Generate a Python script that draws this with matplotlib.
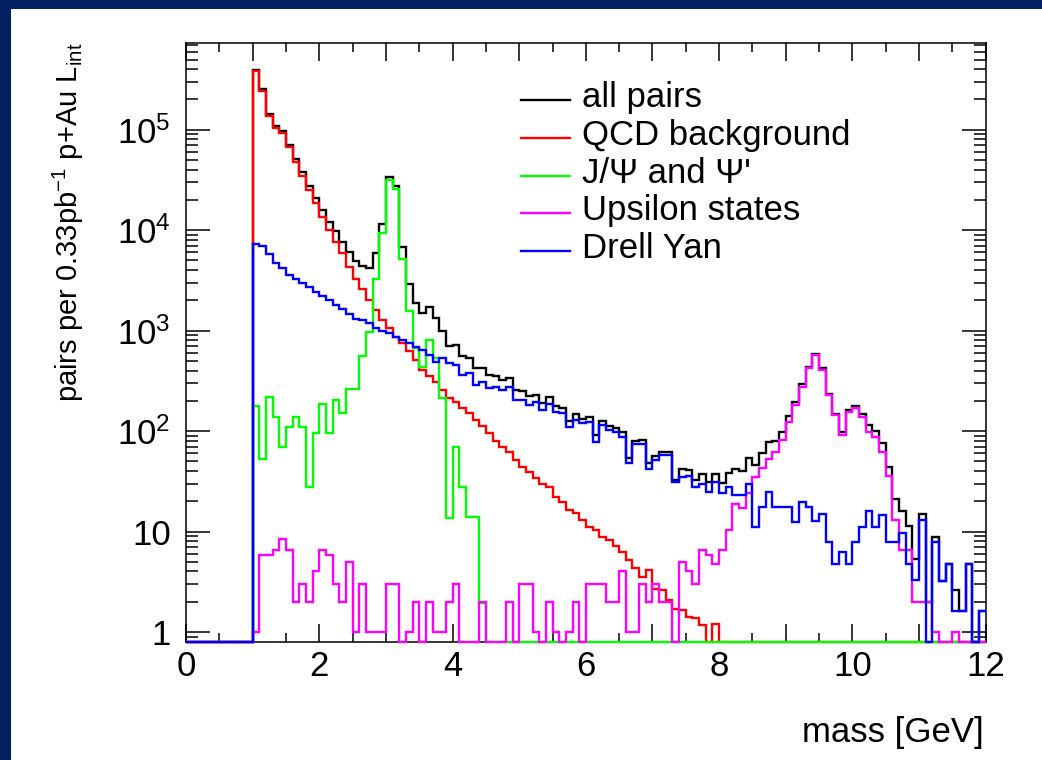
import numpy as np
import matplotlib
matplotlib.use("Agg")
import matplotlib.pyplot as plt
from matplotlib.lines import Line2D
from matplotlib.patches import Rectangle
from matplotlib.ticker import LogLocator, MultipleLocator, FuncFormatter, NullFormatter

plt.rcParams['font.family'] = ['Liberation Sans', 'DejaVu Sans']
plt.rcParams['mathtext.fontset'] = 'custom'
plt.rcParams['mathtext.rm'] = 'Liberation Sans'
plt.rcParams['mathtext.it'] = 'Liberation Sans:italic'
plt.rcParams['mathtext.bf'] = 'Liberation Sans:bold'

# histogram: 0.1 GeV bins from 0 to 12 GeV, nothing below 1 GeV
bin_width = 0.1
first_filled = 1.0

# bin contents from 1.0 GeV upward (one value per 0.1 GeV bin)
qcd = [3.85e5, 2.45e5, 1.36e5, 1.05e5, 9.3e4, 6.7e4, 4.8e4, 3.5e4, 2.5e4, 1.85e4,
       1.36e4, 1.0e4, 7.7e3, 5.9e3, 4.3e3, 3.3e3, 2.6e3, 2.0e3, 1.6e3, 1.27e3,
       1050, 870, 750, 620, 510, 405, 350, 310, 256, 215,
       195, 170, 150, 128, 112, 95, 80, 70, 62, 51,
       44, 39, 34, 30, 28, 22, 19.8, 16.4, 15.2, 13,
       11.2, 10.4, 8.9, 8.2, 7.1, 6.3, 5.2, 4.3, 3.5, 4.1,
       2.7, 2.6, 2.1, 1.7, 1.65, 1.42, 1.37, 1.17, 0, 1.2]

jpsi = [177, 53, 219, 139, 69, 110, 139, 110, 27.5, 96,
        188, 96, 206, 150, 260, 260, 557, 973, 3300, 9300,
        31500, 25500, 5200, 1550, 665, 436, 805, 528, 211, 13.5,
        70, 27.5, 14, 14, 1.93]

upsilon = [1, 5.8, 5.8, 6.5, 8.5, 6.5, 2, 3, 2, 4,
           6.5, 5.8, 3, 2, 5, 1, 3, 1, 1, 1,
           3, 3, 0, 1, 2, 0, 2, 1, 1, 2,
           3, 0, 0, 0, 2, 0, 0, 0, 2, 0,
           3, 3, 1, 0, 2, 1, 0, 1, 2, 0,
           3, 3, 3, 2, 2, 4, 1, 1, 3, 2,
           3, 2, 2, 0, 5, 4, 3, 6.5, 5.8, 4.8,
           6.5, 10.4, 19, 17, 24, 35, 43, 53, 62, 81,
           124, 181, 276, 420, 570, 405, 228, 144, 91, 156,
           168, 137, 98, 88, 62, 36, 13, 6.5, 6.5, 2,
           2, 2, 1, 0, 0, 1, 0, 0, 0, 0]

drell_yan = [7300, 6900, 5800, 4700, 4200, 3600, 3300, 3000, 2700, 2400,
             2200, 2000, 1800, 1660, 1480, 1320, 1270, 1180, 1050, 980,
             955, 870, 805, 750, 690, 640, 570, 490, 530, 471,
             454, 361, 375, 287, 310, 266, 276, 256, 276, 203,
             203, 181, 196, 162, 188, 156, 150, 110, 129, 119,
             124, 78, 115, 102, 98, 88, 48, 75, 75, 42,
             51, 58, 58, 31, 35, 36, 28, 30, 25, 31,
             24, 28, 23, 23, 30, 11.2, 17.7, 24.5, 17.7, 17.7,
             17.7, 12.5, 19.5, 17.7, 12.8, 14.9, 7.9, 4.8, 6.3, 4.8,
             7.9, 11.2, 16.1, 11.2, 14.6, 7.9, 7.9, 9.6, 4.8, 3.3,
             13, 0, 7.9, 3.2, 4.8, 1.6, 1.6, 4.8, 0, 1.6]

labels = ['all pairs', 'QCD background', "J/\u03a8 and \u03a8'", 'Upsilon states', 'Drell Yan']
colors = ['black', '#ff0000', '#00ff00', '#ff00ff', '#0000ff']

nbins = 120
edges = np.linspace(0, 12, nbins + 1)


def full(vals):
    h = np.zeros(nbins)
    i0 = int(round(first_filled / bin_width))
    h[i0:i0 + len(vals)] = vals
    return h


h_qcd = full(qcd)
h_jpsi = full(jpsi)
h_ups = full(upsilon)
h_dy = full(drell_yan)
h_all = h_qcd + h_jpsi + h_ups + h_dy

ymin, ymax = 0.8, 7.3e5

W, H = 1042, 760
fig = plt.figure(figsize=(W / 100, H / 100), dpi=100)
fig.patch.set_facecolor('#022061')
fig.add_artist(Rectangle((11 / W, 0), 1, 1 - 9 / H, transform=fig.transFigure,
                         facecolor='white', edgecolor='none', zorder=-5))

ax = fig.add_axes([186 / W, 1 - 641.7 / H, (985.7 - 186) / W, (641.7 - 43) / H])

# empty bins sit on the bottom of the frame, like ROOT does on a log axis;
# histograms are drawn over the frame
for i, (h, c) in enumerate(zip([h_all, h_qcd, h_jpsi, h_ups, h_dy], colors)):
    ax.stairs(np.where(h > 0, h, ymin), edges, color=c, lw=1.7, baseline=None,
              zorder=3 + 0.1 * i, clip_on=False)

ax.set_yscale('log')
ax.set_xlim(0, 12)
ax.set_ylim(ymin, ymax)

ax.xaxis.set_major_locator(MultipleLocator(1))
ax.xaxis.set_minor_locator(MultipleLocator(0.5))
ax.xaxis.set_major_formatter(FuncFormatter(
    lambda v, p: '%d' % round(v) if round(v) % 2 == 0 else ''))


def ylab(v, p):
    n = int(round(np.log10(v)))
    if n == 0:
        return '1'
    if n == 1:
        return '10'
    return r'$10^{%d}$' % n


ax.yaxis.set_major_locator(LogLocator(base=10, numticks=12))
ax.yaxis.set_minor_locator(LogLocator(base=10, subs=np.arange(2, 10), numticks=30))
ax.yaxis.set_major_formatter(FuncFormatter(ylab))
ax.yaxis.set_minor_formatter(NullFormatter())

ax.tick_params(axis='both', which='both', direction='in', top=True, right=True,
               width=1.1, labelsize=25, colors='black')
ax.tick_params(axis='x', which='major', length=12.7, pad=6)
ax.tick_params(axis='x', which='minor', length=6.2)
ax.tick_params(axis='y', which='major', length=17, pad=11)
ax.tick_params(axis='y', which='minor', length=8.6)
for s in ax.spines.values():
    s.set_linewidth(1.1)

# legend drawn by hand, ROOT style
rows = [100, 138, 176, 213, 251]
for lab, c, y in zip(labels, colors, rows):
    fig.add_artist(Line2D([521 / W, 570 / W], [1 - y / H, 1 - y / H], color=c, lw=1.7))
    fig.text(582 / W, 1 - (y + 7) / H, lab, fontsize=25, ha='left', va='baseline')

fig.text(68 / W, 1 - 42 / H, r'pairs per 0.33pb$^{-1}$ p+Au L$_{\mathrm{int}}$',
         rotation=90, ha='center', va='top', fontsize=21)
fig.text(984 / W, 1 - 742 / H, 'mass [GeV]', ha='right', va='baseline', fontsize=25)

fig.savefig('out.png', dpi=100)
